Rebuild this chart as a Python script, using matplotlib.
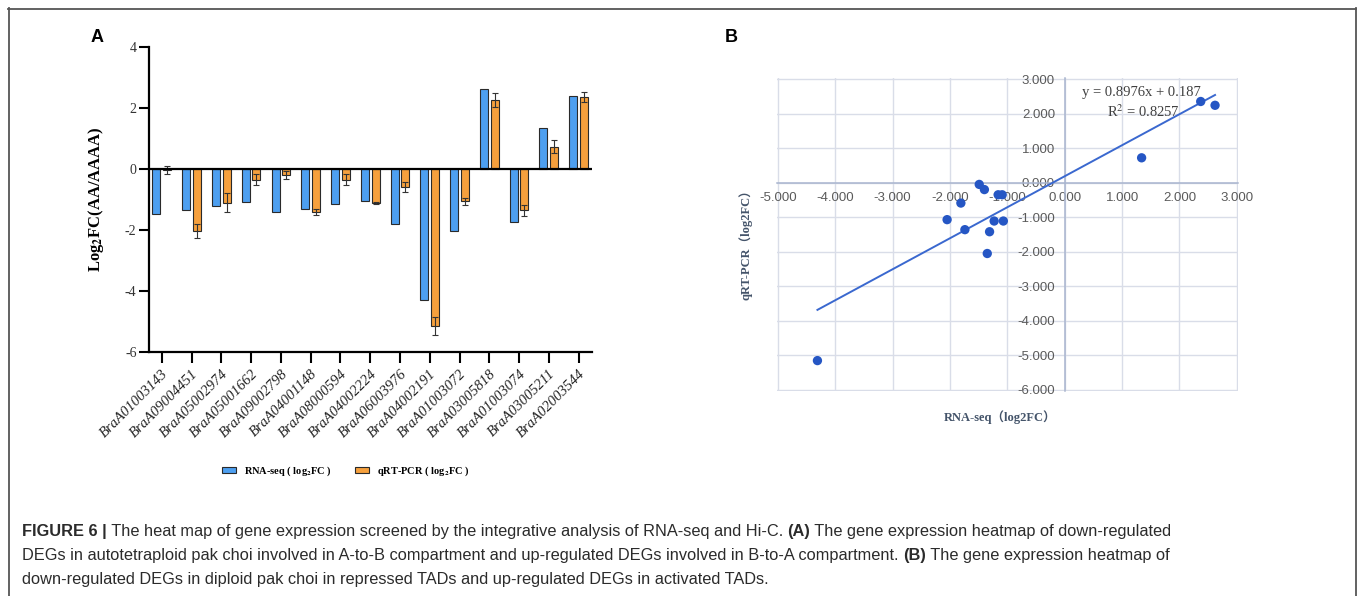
import numpy as np
import matplotlib
matplotlib.use("Agg")
import matplotlib.pyplot as plt
from matplotlib.lines import Line2D

W, H = 1357, 596

genes = ["BraA01003143", "BraA09004451", "BraA05002974", "BraA05001662",
         "BraA09002798", "BraA04001148", "BraA08000594", "BraA04002224",
         "BraA06003976", "BraA04002191", "BraA01003072", "BraA03005818",
         "BraA01003074", "BraA03005211", "BraA02003544"]
rna_seq = [-1.49, -1.35, -1.23, -1.09, -1.40, -1.31, -1.16, -1.07,
           -1.81, -4.31, -2.05, 2.62, -1.74, 1.34, 2.37]
qrt_pcr = [-0.05, -2.05, -1.11, -0.35, -0.20, -1.42, -0.35, -1.11,
           -0.59, -5.15, -1.07, 2.24, -1.36, 0.72, 2.35]
qrt_err = [0.13, 0.23, 0.31, 0.19, 0.14, 0.10, 0.17, 0.03,
           0.17, 0.30, 0.13, 0.23, 0.19, 0.21, 0.15]

fit_slope, fit_icpt, fit_r2 = 0.8976, 0.187, 0.8257

plt.rcParams['mathtext.fontset'] = 'stix'
plt.rcParams['axes.unicode_minus'] = False
SERIF = ['Liberation Serif', 'Noto Sans CJK SC', 'DejaVu Sans']
CAP = ['Liberation Sans', 'DejaVu Sans']


def fx(x):
    return x / W


def fy(y):
    return 1 - y / H


fig = plt.figure(figsize=(W / 100, H / 100), dpi=100)

# ---------- panel A: bars ----------
axA = fig.add_axes([fx(149), fy(352), fx(592 - 149), (352 - 46.7) / H])
xi = np.arange(len(genes))
bw = 0.27
axA.bar(xi - 0.18, rna_seq, bw, color='#4d9ff0', edgecolor='#2a2a2a', lw=0.8,
        label='RNA-seq ( log$_\\mathbf{2}$FC )', zorder=2)
axA.bar(xi + 0.18, qrt_pcr, bw, color='#f6a03d', edgecolor='#2a2a2a', lw=0.8,
        yerr=qrt_err, error_kw=dict(ecolor='#333333', elinewidth=0.8, capsize=2, capthick=0.8),
        label='qRT-PCR ( log$_\\mathbf{2}$FC )', zorder=2)
axA.axhline(0, color='black', lw=1.6, zorder=3)
axA.set_xlim(-0.43, 14.45)
axA.set_ylim(-6, 4)
axA.set_yticks([-6, -4, -2, 0, 2, 4])
axA.set_xticks(xi)
axA.set_xticklabels(genes, rotation=45, ha='right', rotation_mode='anchor',
                    family=SERIF, style='italic', fontsize=10.5, color='#222222')
for lab in axA.get_yticklabels():
    lab.set_family(SERIF)
axA.tick_params(axis='y', labelsize=10, labelcolor='#333333', length=7, width=1.5, pad=2)
axA.tick_params(axis='x', length=8, width=1.5, pad=3)
for s in ['top', 'right']:
    axA.spines[s].set_visible(False)
for s in ['left', 'bottom']:
    axA.spines[s].set_linewidth(1.6)
axA.set_ylabel('Log$_\\mathbf{2}$FC(AA/AAAA)', family=SERIF, fontweight='bold', fontsize=12)
axA.yaxis.set_label_coords(-0.097, 0.5)

h, l = axA.get_legend_handles_labels()
fig.legend(h, l, loc='center', bbox_to_anchor=(fx(346), fy(471)), ncol=2, frameon=False,
           prop=dict(family=SERIF, weight='bold', size=7.5), handlelength=1.3,
           handleheight=0.6, columnspacing=2.2, handletextpad=0.8)

# ---------- panel B: scatter ----------
axB = fig.add_axes([fx(776.7), fy(391), fx(1238 - 776.7), (391 - 78) / H])
axB.set_xlim(-5.02, 3.02)
axB.set_ylim(-6.03, 3.03)
axB.set_xticks(np.arange(-5, 4))
axB.set_yticks(np.arange(-6, 4))
axB.xaxis.set_major_formatter(matplotlib.ticker.FormatStrFormatter('%.3f'))
axB.yaxis.set_major_formatter(matplotlib.ticker.FormatStrFormatter('%.3f'))
axB.grid(True, color='#d9dde8', lw=1.0, zorder=0)
axB.spines['left'].set_position(('data', 0))
axB.spines['bottom'].set_position(('data', 0))
for s in ['top', 'right']:
    axB.spines[s].set_visible(False)
for s in ['left', 'bottom']:
    axB.spines[s].set_color('#a9b5cf')
    axB.spines[s].set_linewidth(1.1)
axB.tick_params(length=0, labelsize=9.5, labelcolor='#5a5a5a')
axB.tick_params(axis='x', pad=7)
axB.tick_params(axis='y', pad=7)
for lab in axB.get_xticklabels() + axB.get_yticklabels():
    lab.set_family(['Liberation Sans'])

axB.scatter(rna_seq, qrt_pcr, s=45, color='#2556c4', zorder=4, edgecolors='none')
xl = np.array([min(rna_seq), max(rna_seq)])
axB.plot(xl, fit_slope * xl + fit_icpt, color='#3a68cf', lw=1.4, zorder=3)
axB.text(0.79, 0.953, 'y = %.4fx + %.3f' % (fit_slope, fit_icpt), transform=axB.transAxes,
         ha='center', va='center', family=SERIF, fontsize=10.5, color='#404040')
axB.text(0.795, 0.892, 'R$^2$ = %.4f' % fit_r2, transform=axB.transAxes,
         ha='center', va='center', family=SERIF, fontsize=10.5, color='#404040')

fig.text(fx(746), fy(242), 'qRT-PCR（log2FC）', rotation=90, ha='center', va='center',
         family=SERIF, fontweight='bold', fontsize=9, color='#44546a')
fig.text(fx(1000), fy(417), 'RNA-seq（log2FC）', ha='center', va='center',
         family=SERIF, fontweight='bold', fontsize=9, color='#44546a')

# panel letters
fig.text(fx(97), fy(37), 'A', ha='center', va='center', family=['Liberation Sans'],
         fontweight='bold', fontsize=13)
fig.text(fx(731), fy(37), 'B', ha='center', va='center', family=['Liberation Sans'],
         fontweight='bold', fontsize=13)

# frame
for (x0, y0, x1, y1) in [(8, 8.5, 1355.5, 8.5), (8.5, 8, 8.5, 600), (1355.5, 8, 1355.5, 600)]:
    fig.add_artist(Line2D([fx(x0), fx(x1)], [fy(y0), fy(y1)], color='#555555', lw=1.3,
                          transform=fig.transFigure))

# caption with bold runs
caption = [
    (536, [("FIGURE 6 |", True), (" The heat map of gene expression screened by the integrative analysis of RNA-seq and Hi-C. ", False),
           ("(A)", True), (" The gene expression heatmap of down-regulated", False)]),
    (560, [("DEGs in autotetraploid pak choi involved in A-to-B compartment and up-regulated DEGs involved in B-to-A compartment. ", False),
           ("(B)", True), (" The gene expression heatmap of", False)]),
    (584, [("down-regulated DEGs in diploid pak choi in repressed TADs and up-regulated DEGs in activated TADs.", False)]),
]
rend = fig.canvas.get_renderer()
for yb, runs in caption:
    x = 22
    for txt, bold in runs:
        t = fig.text(fx(x), fy(yb), txt, ha='left', va='baseline', family=CAP, fontsize=11.8,
                     fontweight='bold' if bold else 'normal', color='#2b2b2b')
        x += t.get_window_extent(renderer=rend).width

fig.savefig('out.png', dpi=100)
